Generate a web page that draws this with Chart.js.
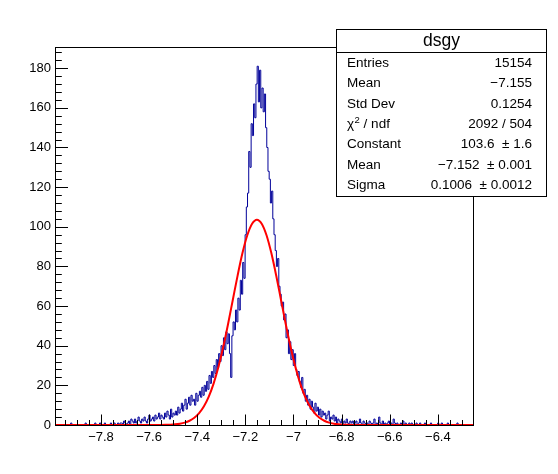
<!DOCTYPE html>
<html><head><meta charset="utf-8">
<script src="https://cdn.jsdelivr.net/npm/chart.js@4.4.1/dist/chart.umd.min.js"></script>
<style>html,body{margin:0;padding:0;background:#fff;}canvas{display:block;}</style>
</head><body>
<canvas id="c" width="558" height="474" style="width:558px;height:474px"></canvas>
<script>
// ---- data ----
const xMin = -7.991, xMax = -6.254, binWidth = 0.005;
const yMax = 190.7;
const counts = [
 0,0,0,0,0,0,0,0,0,0,
 0,0,0,1,0,0,0,0,0,0,
 0,0,0,0,0,1,0,0,0,0,
 0,0,0,1,0,0,0,1,0,0,
 0,1,0,0,0,0,1,0,0,1,
 0,0,1,0,1,1,0,2,1,0,
 1,2,0,3,2,1,3,1,2,4,
 2,1,3,2,4,2,1,3,5,2,
 3,4,2,5,3,4,6,3,5,4,
 3,6,4,7,5,3,8,4,6,5,
 7,5,9,6,8,11,7,10,13,8,
 11,14,10,15,12,13,10,16,12,15,
 17,14,19,15,20,17,22,18,25,21,
 27,24,30,26,33,29,36,32,40,35,
 44,38,47,41,46,36,24,45,52,48,
 58,52,64,58,73,66,82,74,96,110,
 117,138,130,152,146,162,155,172,181,163,
 179,160,170,158,167,150,140,128,124,112,
 118,104,96,88,80,84,70,66,60,62,
 53,56,44,48,36,42,33,38,30,36,
 28,25,27,22,19,24,16,18,12,15,
 10,13,8,12,9,6,11,7,9,5,
 8,4,7,5,6,3,5,7,2,4,
 3,5,2,4,1,3,2,1,3,0,
 2,1,3,1,0,2,1,2,0,1,
 2,0,1,3,1,0,2,1,0,1,
 0,2,1,0,1,3,0,1,0,4,
 1,0,2,0,1,0,1,2,0,1,
 0,3,1,0,1,0,0,1,0,2,
 0,1,0,0,1,0,1,0,0,0,
 1,0,0,1,0,0,0,1,0,0,
 0,0,1,0,0,0,0,0,1,0,
 0,1,0,0,0,0,1,0,0,0,
 0,0,0,0,1,0,0,0,0,0,
 0,0,0,0,0,0,0,0
];
const fitX = [-7.991,-7.552,-7.532,-7.512,-7.492,-7.472,-7.452,-7.432,-7.412,-7.392,-7.372,-7.352,-7.332,-7.312,-7.292,-7.272,-7.252,-7.232,-7.212,-7.192,-7.172,-7.152,
 -7.132,-7.112,-7.092,-7.072,-7.052,-7.032,-7.012,-6.992,-6.972,-6.952,-6.932,-6.912,-6.892,-6.872,-6.852,-6.832,-6.812,-6.792,-6.772,-6.752,-6.254];
const fitY = [0,0.04,0.08,0.17,0.34,0.66,1.21,2.15,3.67,6.02,9.48,14.36,20.90,29.25,39.34,50.86,63.21,75.51,86.72,95.73,101.57,103.6,
 101.57,95.73,86.72,75.51,63.21,50.86,39.34,29.25,20.90,14.36,9.48,6.02,3.67,2.15,1.21,0.66,0.34,0.17,0.08,0.04,0];
const xTicks = [-7.8,-7.6,-7.4,-7.2,-7,-6.8,-6.6,-6.4];
const yTicks = [0,20,40,60,80,100,120,140,160,180];
const statsTitle = 'dsgy';
const statsLabels = ['Entries','Mean','Std Dev','\u03C7^2 / ndf','Constant','Mean','Sigma'];
const statsValues = ['15154','\u22127.155','0.1254','2092 / 504','103.6  \u00B1 1.6','\u22127.152  \u00B1 0.001','0.1006  \u00B1 0.0012'];

// ---- build library data ----
const histPts = counts.map((c,i)=>({x:xMin+i*binWidth,y:c}));
histPts.push({x:xMin+counts.length*binWidth,y:counts[counts.length-1]});
const fitPts = fitX.map((x,i)=>({x:x,y:fitY[i]}));

const FONT = "'Liberation Sans', Arial, Helvetica, sans-serif";
const fmt = v => String(Math.round(v*10)/10).replace('-', '\u2212');

const framePlugin = {
  id:'frame',
  afterDraw(chart){
    const ctx = chart.ctx, a = chart.chartArea;
    const xs = chart.scales.x, ys = chart.scales.y;
    ctx.save();
    ctx.strokeStyle='#000'; ctx.lineWidth=1;
    const L=Math.round(a.left)+0.5, R=Math.round(a.right)+0.5, T=Math.round(a.top)+0.5, B=Math.round(a.bottom)+0.5;
    ctx.strokeRect(L,T,R-L,B-T);
    ctx.beginPath();
    for(let k=Math.ceil(xMin/0.05); k*0.05<=xMax; k++){
      const v=k*0.05; const px=Math.round(xs.getPixelForValue(v))+0.5;
      const major = Math.abs(v/0.2-Math.round(v/0.2))<1e-6;
      ctx.moveTo(px,B); ctx.lineTo(px,B-(major?11:5.5));
    }
    for(let v=0; v<=yMax; v+=4){
      const py=Math.round(ys.getPixelForValue(v))+0.5;
      const major = v%20===0;
      ctx.moveTo(L,py); ctx.lineTo(L+(major?12.5:6.3),py);
    }
    ctx.stroke();
    // stats box
    const bx=336.5, by=29.5, bw=210, bh=167;
    ctx.fillStyle='#fff'; ctx.fillRect(bx,by,bw,bh);
    ctx.strokeRect(bx,by,bw,bh);
    ctx.beginPath(); ctx.moveTo(bx,52.5); ctx.lineTo(bx+bw,52.5); ctx.stroke();
    ctx.fillStyle='#000';
    ctx.font='17.5px '+FONT; ctx.textAlign='center'; ctx.textBaseline='alphabetic';
    ctx.fillText(statsTitle, bx+bw/2, 46);
    ctx.font='13.5px '+FONT;
    statsLabels.forEach((lab,k)=>{
      const yb=66.8+20.42*k;
      ctx.textAlign='left';
      if(lab.indexOf('^')>=0){
        const parts=lab.split('^');
        let x=347;
        ctx.fillText(parts[0],x,yb); x+=ctx.measureText(parts[0]).width;
        ctx.font='9.5px '+FONT; ctx.fillText(parts[1].charAt(0),x+0.5,yb-5.5);
        x+=ctx.measureText(parts[1].charAt(0)).width+0.5;
        ctx.font='13.5px '+FONT; ctx.fillText(parts[1].slice(1),x,yb);
      } else ctx.fillText(lab,347,yb);
      ctx.textAlign='right';
      ctx.fillText(statsValues[k],532,yb);
    });
    ctx.restore();
  }
};

new Chart(document.getElementById('c'),{
  type:'scatter',
  data:{datasets:[
    {data:fitPts, showLine:true, borderColor:'#ff0000', borderWidth:2, pointRadius:0, cubicInterpolationMode:'monotone', order:0},
    {data:histPts, showLine:true, borderColor:'#000099', borderWidth:1, pointRadius:0, stepped:true, order:1}
  ]},
  options:{
    responsive:false, animation:false, devicePixelRatio:1,
    layout:{padding:{left:0,top:47,right:85,bottom:0}},
    plugins:{legend:{display:false}, tooltip:{enabled:false}},
    scales:{
      x:{type:'linear', min:xMin, max:xMax,
         grid:{display:false, drawTicks:false}, border:{display:false},
         afterBuildTicks:s=>{s.ticks=xTicks.map(v=>({value:v}));},
         afterFit:s=>{s.height=49;},
         ticks:{padding:5, color:'#000', maxRotation:0, autoSkip:false, font:{family:FONT,size:13}, callback:v=>fmt(v)}},
      y:{type:'linear', min:0, max:yMax,
         grid:{display:false, drawTicks:false}, border:{display:false},
         afterBuildTicks:s=>{s.ticks=yTicks.map(v=>({value:v}));},
         afterFit:s=>{s.width=55;},
         ticks:{padding:4, color:'#000', autoSkip:false, font:{family:FONT,size:13}, callback:v=>fmt(v)}}
    }
  },
  plugins:[framePlugin]
});
</script>
</body></html>
